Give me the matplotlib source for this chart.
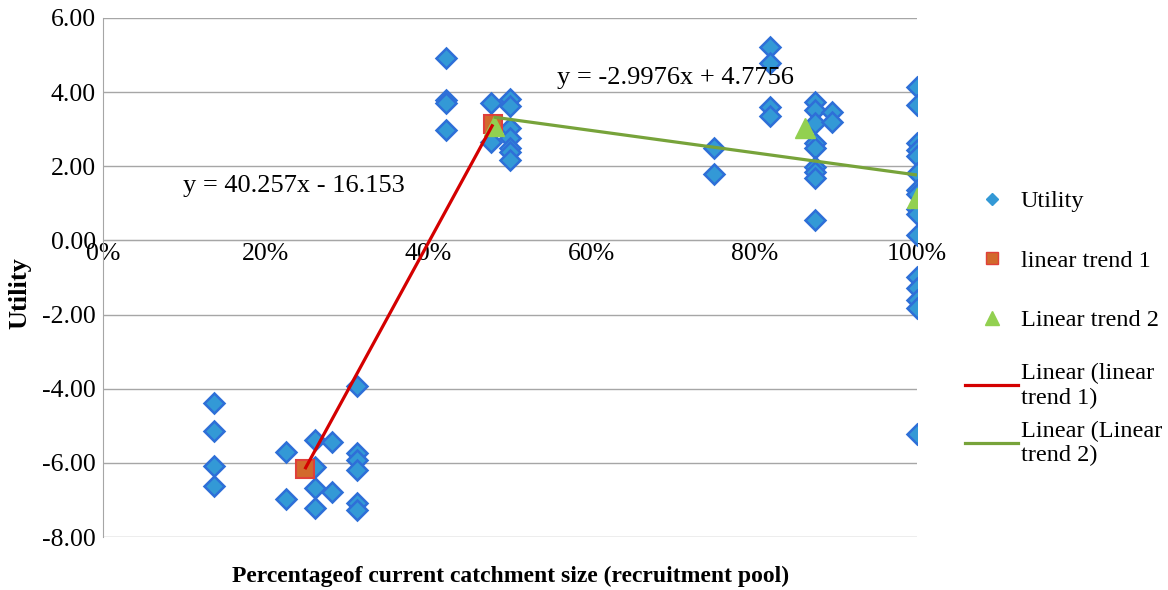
import numpy as np
import matplotlib
matplotlib.use("Agg")
import matplotlib.pyplot as plt
from matplotlib.lines import Line2D
from matplotlib.ticker import FuncFormatter

plt.rcParams['font.family'] = ['Liberation Serif', 'DejaVu Serif']
plt.rcParams['axes.unicode_minus'] = False

# Utility observations (x = share of current catchment size)
util_x = [0.136, 0.136, 0.136, 0.136,
          0.225, 0.225,
          0.260, 0.260, 0.260, 0.260,
          0.281, 0.281,
          0.312, 0.312, 0.312, 0.312, 0.312, 0.312,
          0.421, 0.421, 0.421, 0.421,
          0.477, 0.477,
          0.500, 0.500, 0.500, 0.500, 0.500, 0.500, 0.500,
          0.750, 0.750,
          0.819, 0.819, 0.819, 0.819,
          0.875, 0.875, 0.875, 0.875, 0.875, 0.875, 0.875, 0.875, 0.875,
          0.895, 0.895,
          1.0, 1.0, 1.0, 1.0, 1.0, 1.0, 1.0, 1.0, 1.0, 1.0, 1.0, 1.0, 1.0, 1.0, 1.0, 1.0]
util_y = [-4.39, -5.14, -6.08, -6.63,
          -5.71, -6.97,
          -5.37, -6.12, -6.69, -7.23,
          -5.45, -6.78,
          -3.93, -5.73, -5.92, -6.19, -7.08, -7.27,
          4.91, 3.79, 3.70, 2.98,
          3.70, 2.66,
          3.82, 3.62, 3.03, 2.75, 2.50, 2.38, 2.17,
          2.48, 1.79,
          5.22, 4.78, 3.59, 3.36,
          3.74, 3.52, 3.17, 2.63, 2.49, 1.99, 1.85, 1.68, 0.55,
          3.47, 3.20,
          4.15, 3.65, 2.62, 2.45, 2.28, 1.81, 1.35, 1.25, 0.85, 0.70, 0.15,
          -0.98, -1.29, -1.61, -1.83, -5.22]

trend1_x = [0.248, 0.479]
trend1_y = [-6.17, 3.13]
trend2_x = [0.480, 0.862, 1.0]
trend2_y = [3.10, 3.03, 1.14]

eq1 = "y = 40.257x - 16.153"
eq2 = "y = -2.9976x + 4.7756"

xticks = [0, 0.2, 0.4, 0.6, 0.8, 1.0]
yticks = [-8, -6, -4, -2, 0, 2, 4, 6]

blue_fill = '#3399D6'
blue_edge = '#2E6FD8'
sq_fill = '#D2692C'
sq_edge = '#E0403A'
tri_col = '#92D050'
red_line = '#D40000'
green_line = '#77A33A'
grid_col = '#A6A6A6'

fig = plt.figure(figsize=(11.68, 5.90), dpi=100)
ax = fig.add_axes([103/1168, 1-537/590, 814/1168, 519/590])

for yv in yticks:
    ax.axhline(yv, color=grid_col, lw=1.0, zorder=0)

ax.plot(util_x, util_y, linestyle='none', marker='D', ms=10,
        mfc=blue_fill, mec=blue_edge, mew=1.8, zorder=3)
ax.plot(trend1_x, trend1_y, linestyle='none', marker='s', ms=12.5,
        mfc=sq_fill, mec=sq_edge, mew=1.5, zorder=4)
ax.plot(trend2_x, trend2_y, linestyle='none', marker='^', ms=15,
        mfc=tri_col, mec=tri_col, zorder=5)

# linear trendlines fitted to each trend series
k1, b1 = np.polyfit(trend1_x, trend1_y, 1)
xx1 = np.array([min(trend1_x), max(trend1_x)])
ax.plot(xx1, k1*xx1 + b1, color=red_line, lw=2.3, zorder=6, solid_capstyle='butt')
k2, b2 = np.polyfit(trend2_x, trend2_y, 1)
xx2 = np.array([min(trend2_x), max(trend2_x)])
ax.plot(xx2, k2*xx2 + b2, color=green_line, lw=2.3, zorder=6, solid_capstyle='butt')

ax.text(0.098, 1.47, eq1, fontsize=19, va='center', ha='left', zorder=7)
ax.text(0.558, 4.38, eq2, fontsize=19, va='center', ha='left', zorder=7)

ax.set_xlim(0, 1.0)
ax.set_ylim(-8, 6)
ax.set_xticks(xticks)
ax.set_yticks(yticks)
ax.xaxis.set_major_formatter(FuncFormatter(lambda v, p: f"{v*100:.0f}%"))
ax.yaxis.set_major_formatter(FuncFormatter(lambda v, p: f"{v:.2f}"))
ax.tick_params(axis='both', labelsize=18.5, length=0)
ax.tick_params(axis='x', pad=2)
ax.tick_params(axis='y', pad=5)

for s in ['top', 'right']:
    ax.spines[s].set_visible(False)
ax.spines['left'].set_color(grid_col)
ax.spines['bottom'].set_position(('data', 0))
ax.spines['bottom'].set_color(grid_col)

ax.set_ylabel("Utility", fontsize=19, fontweight='bold')
ax.yaxis.set_label_coords(-0.088, 0.47)
fig.text(511/1168, 1-576/590, "Percentageof current catchment size (recruitment pool)",
         fontsize=17, fontweight='bold', ha='center', va='center')

marker_handles = [
    Line2D([], [], linestyle='none', marker='D', ms=6.5, mfc=blue_fill, mec=blue_fill),
    Line2D([], [], linestyle='none', marker='s', ms=9, mfc=sq_fill, mec=sq_edge),
    Line2D([], [], linestyle='none', marker='^', ms=10, mfc=tri_col, mec=tri_col),
]
marker_labels = ["Utility", "linear trend 1", "Linear trend 2"]
line_handles = [
    Line2D([], [], color=red_line, lw=2.3),
    Line2D([], [], color=green_line, lw=2.3),
]
line_labels = ["Linear (linear\ntrend 1)", "Linear (Linear\ntrend 2)"]

fig.legend(marker_handles, marker_labels, loc='upper left',
           bbox_to_anchor=(965/1168, 1-190/590), frameon=False, fontsize=17.5,
           handlelength=2.2, handletextpad=0.1, labelspacing=1.55,
           borderpad=0, borderaxespad=0)
fig.legend(line_handles, line_labels, loc='upper left',
           bbox_to_anchor=(965/1168, 1-363/590), frameon=False, fontsize=17.5,
           handlelength=2.2, handletextpad=0.1, labelspacing=0.5,
           borderpad=0, borderaxespad=0)

fig.savefig("out.png", dpi=100)
